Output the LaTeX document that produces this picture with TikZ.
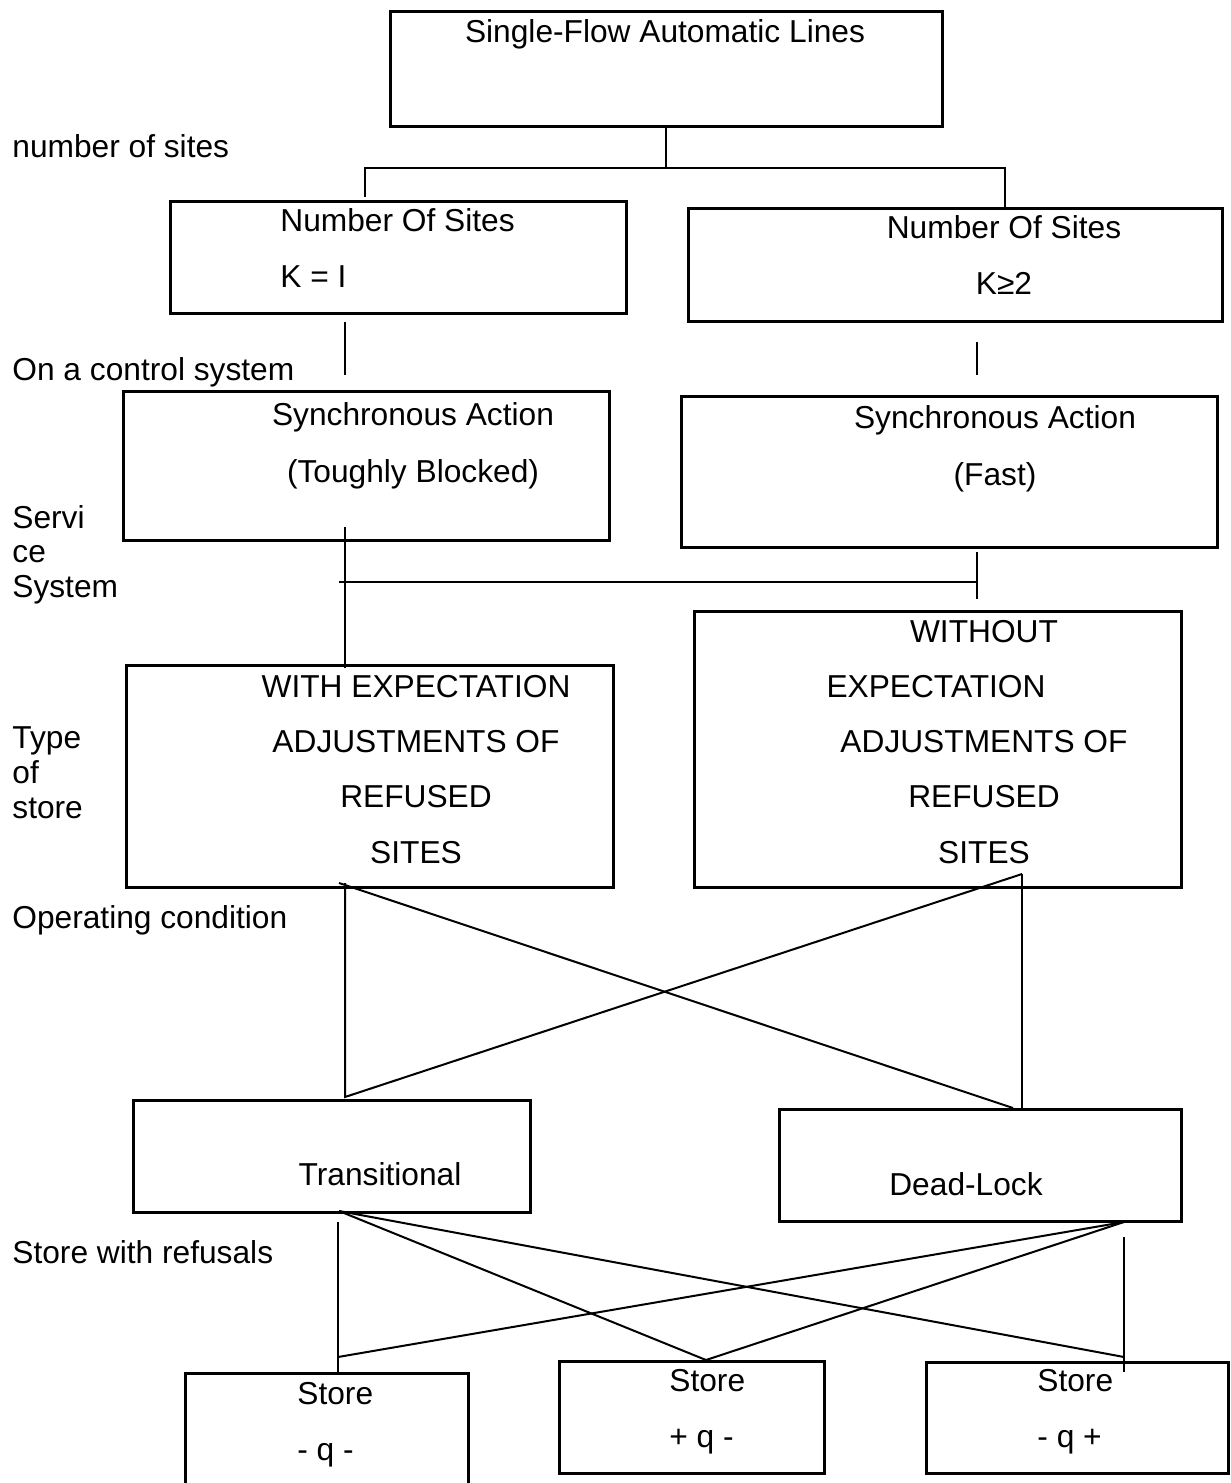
\documentclass[tikz,border=0pt]{standalone}
\usepackage{fontspec}
\setmainfont{Liberation Sans}
\usetikzlibrary{fit}

\begin{document}
\begin{tikzpicture}[
    x=0.5pt, y=-0.5pt,
    box/.style={draw, line width=1.5pt, inner sep=0pt},
    wire/.style={line width=1pt},
    txt/.style={font=\fontsize{15.85}{27.6}\selectfont, inner sep=0pt, anchor=base},
    side/.style={font=\fontsize{15.85}{17.2}\selectfont, inner sep=0pt, anchor=base west, align=left}
]
\clip (0,0) rectangle (1231,1483);

% -------------------------
% BOXES
% -------------------------
\node[box, fit={(390,11) (942,126)}] (Lines) {};
\node[box, fit={(170,201) (626,313)}] (SitesOne) {};
\node[box, fit={(688,208) (1222,321)}] (SitesMany) {};
\node[box, fit={(123,391) (609,540)}] (SyncBlocked) {};
\node[box, fit={(681,396) (1217,547)}] (SyncFast) {};
\node[box, fit={(126,665) (613,887)}] (WithExp) {};
\node[box, fit={(694,611) (1181,887)}] (WithoutExp) {};
\node[box, fit={(133,1100) (530,1212)}] (Transit) {};
\node[box, fit={(779,1109) (1181,1221)}] (DeadLock) {};
\node[box, fit={(185,1373) (468,1500)}] (StoreA) {};
\node[box, fit={(559,1361) (824,1473)}] (StoreB) {};
\node[box, fit={(926,1362) (1228,1473)}] (StoreC) {};

% -------------------------
% TEXTS (multi-line ones sit on their last baseline)
% -------------------------
\node[txt] (LinesText) at (665,42) {Single-Flow Automatic Lines};
\node[txt, anchor=base west, align=left] (SitesOneText) at (280,287) {Number Of Sites\\K = I};
\node[txt, align=center] (SitesManyText) at (1004,294) {Number Of Sites\\K≥2};
\node[txt, align=center, font=\fontsize{15.85}{28.5}\selectfont] (SyncBlockedText) at (413,482) {Synchronous Action\\(Toughly Blocked)};
\node[txt, align=center, font=\fontsize{15.85}{28.5}\selectfont] (SyncFastText) at (995,485) {Synchronous Action\\(Fast)};
\node[txt, align=center] (WithExpText) at (416,863) {WITH EXPECTATION\\ADJUSTMENTS OF\\REFUSED\\SITES};
\node[txt, align=center] (WithoutExpText) at (984,863) {WITHOUT\\EXPECTATION\rule{48pt}{0pt}\\ADJUSTMENTS OF\\REFUSED\\SITES};
\node[txt] (TransitText) at (380,1185) {Transitional};
\node[txt] (DeadLockText) at (966,1195) {Dead-Lock};
\node[txt, anchor=base west, align=left] (StoreAText) at (297,1460) {Store\\- q -};
\node[txt, anchor=base west, align=left] (StoreBText) at (669,1447) {Store\\+ q -};
\node[txt, anchor=base west, align=left] (StoreCText) at (1037,1447) {Store\\- q +};

% side labels
\node[side] (LblSites) at (12,157) {number of sites};
\node[side] (LblControl) at (12,380) {On a control system};
\node[side] (LblService) at (12,597) {Servi\\ce\\System};
\node[side, font=\fontsize{15.85}{17.5}\selectfont] (LblType) at (12,818) {Type\\of\\store};
\node[side] (LblOperating) at (12,928) {Operating condition};
\node[side] (LblRefusals) at (12,1263) {Store with refusals};

% -------------------------
% CONNECTORS
% -------------------------
% number of sites fork
\coordinate (ForkL) at (365,168);
\coordinate (ForkR) at (1005,168);
\coordinate (EndL) at (365,197);
\coordinate (EndR) at (1005,210);
\draw[wire] (Lines.south) -- (Lines.south |- ForkL);
\draw[wire] (EndL) -- (ForkL) -- (ForkR) -- (EndR);

% sites to control system
\coordinate (OneTop) at (345,322);
\coordinate (OneBot) at (345,375);
\coordinate (ManyTop) at (977,342);
\coordinate (ManyBot) at (977,375);
\draw[wire] (OneTop) -- (OneBot);
\draw[wire] (ManyTop) -- (ManyBot);

% service system fork
\coordinate (SvcTop) at (345,527);
\coordinate (SvcBot) at (345,668);
\coordinate (SvcL) at (339,582);
\coordinate (SvcR) at (977,582);
\coordinate (FastTop) at (977,552);
\coordinate (FastBot) at (977,599);
\draw[wire] (SvcTop) -- (SvcBot);
\draw[wire] (SvcL) -- (SvcR);
\draw[wire] (FastTop) -- (FastBot);

% operating condition cross
\coordinate (CrossA) at (339,883);
\coordinate (CrossB) at (1022,874);
\coordinate (CrossC) at (345,1097);
\coordinate (CrossD) at (1013,1108);
\draw[wire] (CrossA) -- (CrossD);
\draw[wire] (CrossB) -- (CrossC) -- (CrossC |- CrossA);
\draw[wire] (CrossB) -- (CrossB |- CrossD);

% store with refusals fan
\coordinate (FanT) at (339,1211);
\coordinate (FanD) at (1124,1222);
\coordinate (EndA) at (338,1357);
\coordinate (EndB) at (706,1360);
\coordinate (EndC) at (1124,1357);
\draw[wire] (FanT) -- (EndB);
\draw[wire] (FanT) -- (EndC);
\draw[wire] (FanD) -- (EndA);
\draw[wire] (FanD) -- (EndB);
\coordinate (StubA) at (338,1222);
\coordinate (StubC) at (1124,1237);
\draw[wire] (StubA) -- (StubA |- StoreA.north);
\draw[wire] (StubC) -- (1124,1372);

\end{tikzpicture}
\end{document}
